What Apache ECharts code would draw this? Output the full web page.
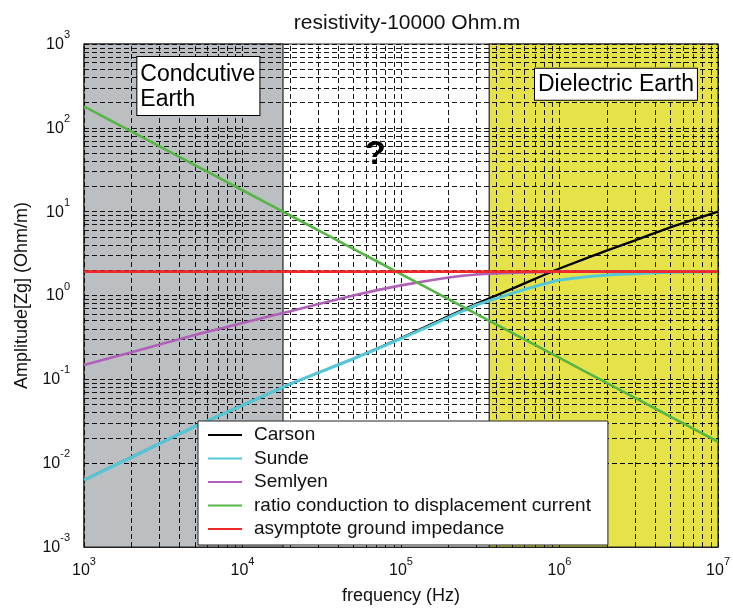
<!DOCTYPE html>
<html>
<head>
<meta charset="utf-8">
<script src="https://cdn.jsdelivr.net/npm/echarts@6/dist/echarts.min.js"></script>
<style>
html,body{margin:0;padding:0;background:#fff;}
#chart{width:733px;height:610px;}
</style>
</head>
<body>
<div id="chart"></div>
<script>
// ---- data ----
const freq     = [1e3, 2e3, 5e3, 1e4, 2e4, 5e4, 1e5, 2e5, 3e5, 5e5, 7e5, 1e6, 2e6, 3e6, 5e6, 1e7];
const carson   = [0.0063, 0.0118, 0.0274, 0.049, 0.088, 0.176, 0.31, 0.57, 0.80, 1.2, 1.58, 2.1, 3.45, 4.55, 6.5, 10.0];
const sunde    = [0.0063, 0.0118, 0.0274, 0.049, 0.088, 0.176, 0.305, 0.55, 0.77, 1.06, 1.28, 1.53, 1.76, 1.82, 1.89, 1.92];
const semlyen  = [0.148, 0.211, 0.339, 0.47, 0.65, 1.0, 1.32, 1.64, 1.78, 1.86, 1.9, 1.92, 1.93, 1.93, 1.93, 1.93];
const ratio    = [180, 90, 36, 18, 9, 3.6, 1.8, 0.9, 0.6, 0.36, 0.257, 0.18, 0.09, 0.06, 0.036, 0.018];
const asymptote= [1.93, 1.93, 1.93, 1.93, 1.93, 1.93, 1.93, 1.93, 1.93, 1.93, 1.93, 1.93, 1.93, 1.93, 1.93, 1.93];
const seriesNames = ['Carson', 'Sunde', 'Semlyen', 'ratio conduction to displacement current', 'asymptote ground impedance'];
const seriesColors = ['#000000', '#55c8d8', '#b060b8', '#55b545', '#f02828'];
const seriesWidths = [2.3, 3, 2.6, 2.6, 2.8];

const xDecades = [1e3, 1e4, 1e5, 1e6, 1e7];
const yDecades = [1e-3, 1e-2, 1e-1, 1e0, 1e1, 1e2, 1e3];
const conductiveRange = [1e3, 1.8e4];
const dielectricRange = [3.6e5, 1e7];
const titleText = 'resistivity-10000 Ohm.m';
const xName = 'frequency (Hz)';
const yName = 'Amplitude[Zg] (Ohm/m)';
const questionPos = [6.9e4, 48];
const conductiveLabelPos = [2.17e3, 700];
const dielectricLabelPos = [2.27e6, 330];

// grid line values (major + minor at 2..9 of each decade)
function gridValues(decades) {
  const out = [];
  for (let i = 0; i < decades.length; i++) {
    out.push(decades[i]);
    if (i < decades.length - 1) for (let k = 2; k <= 9; k++) out.push(+(k * decades[i]).toPrecision(3));
  }
  return out;
}
const xGrid = gridValues(xDecades);
const yGrid = gridValues(yDecades);

function pairs(ys) { return freq.map((f, i) => [f, ys[i]]); }
const dataSets = [carson, sunde, semlyen, ratio, asymptote];

const chart = echarts.init(document.getElementById('chart'));
const FONT = 'Liberation Sans, Arial, sans-serif';

function expLabel(v) {
  const e = Math.round(Math.log10(v));
  return '{b|10}{s|' + e + '}';
}
const richStyle = {
  b: {fontSize: 16, fontFamily: FONT, color: '#111', lineHeight: 16, verticalAlign: 'bottom'},
  s: {fontSize: 11, fontFamily: FONT, color: '#111', padding: [0, 0, 12, 0], verticalAlign: 'top'}
};

const gridLineStyle = {color: '#000', type: [5, 3], width: 1, opacity: 0.9};

const series = seriesNames.map((name, i) => ({
  name: name,
  type: 'line',
  data: pairs(dataSets[i]),
  showSymbol: false,
  smooth: 0.2,
  z: 10 + i,
  lineStyle: {color: seriesColors[i], width: seriesWidths[i]},
  itemStyle: {color: seriesColors[i]},
  emphasis: {disabled: true}
}));

// background patches + grid lines carried by helper series
series.unshift({
  name: '_bg',
  type: 'line',
  data: [],
  silent: true,
  z: 1,
  markArea: {
    silent: true,
    itemStyle: {borderColor: '#222', borderWidth: 1.2},
    data: [
      [{xAxis: conductiveRange[0], yAxis: 1e-3, itemStyle: {color: '#bcbfc2'}}, {xAxis: conductiveRange[1], yAxis: 1e3}],
      [{xAxis: dielectricRange[0], yAxis: 1e-3, itemStyle: {color: '#e6e34a'}}, {xAxis: dielectricRange[1], yAxis: 1e3}]
    ]
  }
});
series.splice(1, 0, {
  name: '_grid',
  type: 'line',
  data: [],
  silent: true,
  z: 3,
  markLine: {
    silent: true,
    symbol: 'none',
    label: {show: false},
    lineStyle: gridLineStyle,
    data: xGrid.map(v => ({xAxis: v})).concat(yGrid.map(v => ({yAxis: v})))
  },
  markPoint: {
    silent: true,
    symbol: 'rect',
    symbolSize: 1,
    itemStyle: {color: 'rgba(0,0,0,0)'},
    data: [
      {coord: questionPos, label: {show: true, formatter: '?', fontSize: 34, fontWeight: 'bold', color: '#000', fontFamily: FONT}},
      {coord: conductiveLabelPos, label: {show: true, formatter: 'Condcutive\nEarth', fontSize: 23, lineHeight: 25, color: '#000', fontFamily: FONT,
        align: 'left', verticalAlign: 'top', backgroundColor: '#fff', borderColor: '#000', borderWidth: 1, padding: [5, 4, 3, 3]}},
      {coord: dielectricLabelPos, label: {show: true, formatter: 'Dielectric Earth', fontSize: 23, lineHeight: 25, color: '#000', fontFamily: FONT,
        align: 'center', verticalAlign: 'middle', backgroundColor: '#fff', borderColor: '#000', borderWidth: 1, padding: [3, 3, 3, 3]}}
    ]
  }
});

const option = {
  animation: false,
  backgroundColor: '#fff',
  title: {
    text: titleText, left: 402, top: 8, textAlign: 'center',
    textStyle: {fontSize: 21, fontWeight: 'normal', color: '#111', fontFamily: FONT}
  },
  grid: {left: 84, right: 12, top: 44, bottom: 63, show: true, borderColor: '#222', borderWidth: 1, backgroundColor: '#fff'},
  legend: {
    data: seriesNames,
    orient: 'vertical',
    left: 198, top: 421,
    padding: [4, 17, 6, 10],
    itemGap: 3.5,
    itemWidth: 34, itemHeight: 14,
    backgroundColor: '#fff', borderColor: '#222', borderWidth: 1,
    icon: 'path://M0,6 L34,6 L34,8 L0,8 Z',
    textStyle: {fontSize: 19, lineHeight: 20, color: '#111', fontFamily: FONT, padding: [0, 0, 0, 7]},
    selectedMode: false,
    z: 20
  },
  xAxis: {
    type: 'log', logBase: 10, min: 1e3, max: 1e7,
    name: xName, nameLocation: 'middle', nameGap: 40,
    nameTextStyle: {fontSize: 18, color: '#111', fontFamily: FONT},
    axisLine: {lineStyle: {color: '#222'}},
    axisTick: {inside: true, length: 6, lineStyle: {color: '#222'}},
    splitLine: {show: false},
    axisLabel: {formatter: expLabel, rich: richStyle, margin: 9}
  },
  yAxis: {
    type: 'log', logBase: 10, min: 1e-3, max: 1e3,
    name: yName, nameLocation: 'middle', nameGap: 50, nameRotate: 90,
    nameTextStyle: {fontSize: 18, color: '#111', fontFamily: FONT},
    axisLine: {lineStyle: {color: '#222'}},
    axisTick: {inside: true, length: 6, lineStyle: {color: '#222'}},
    splitLine: {show: false},
    axisLabel: {formatter: expLabel, rich: richStyle, margin: 14, padding: [0, 0, 6, 0]}
  },
  series: series
};
chart.setOption(option);
</script>
</body>
</html>
